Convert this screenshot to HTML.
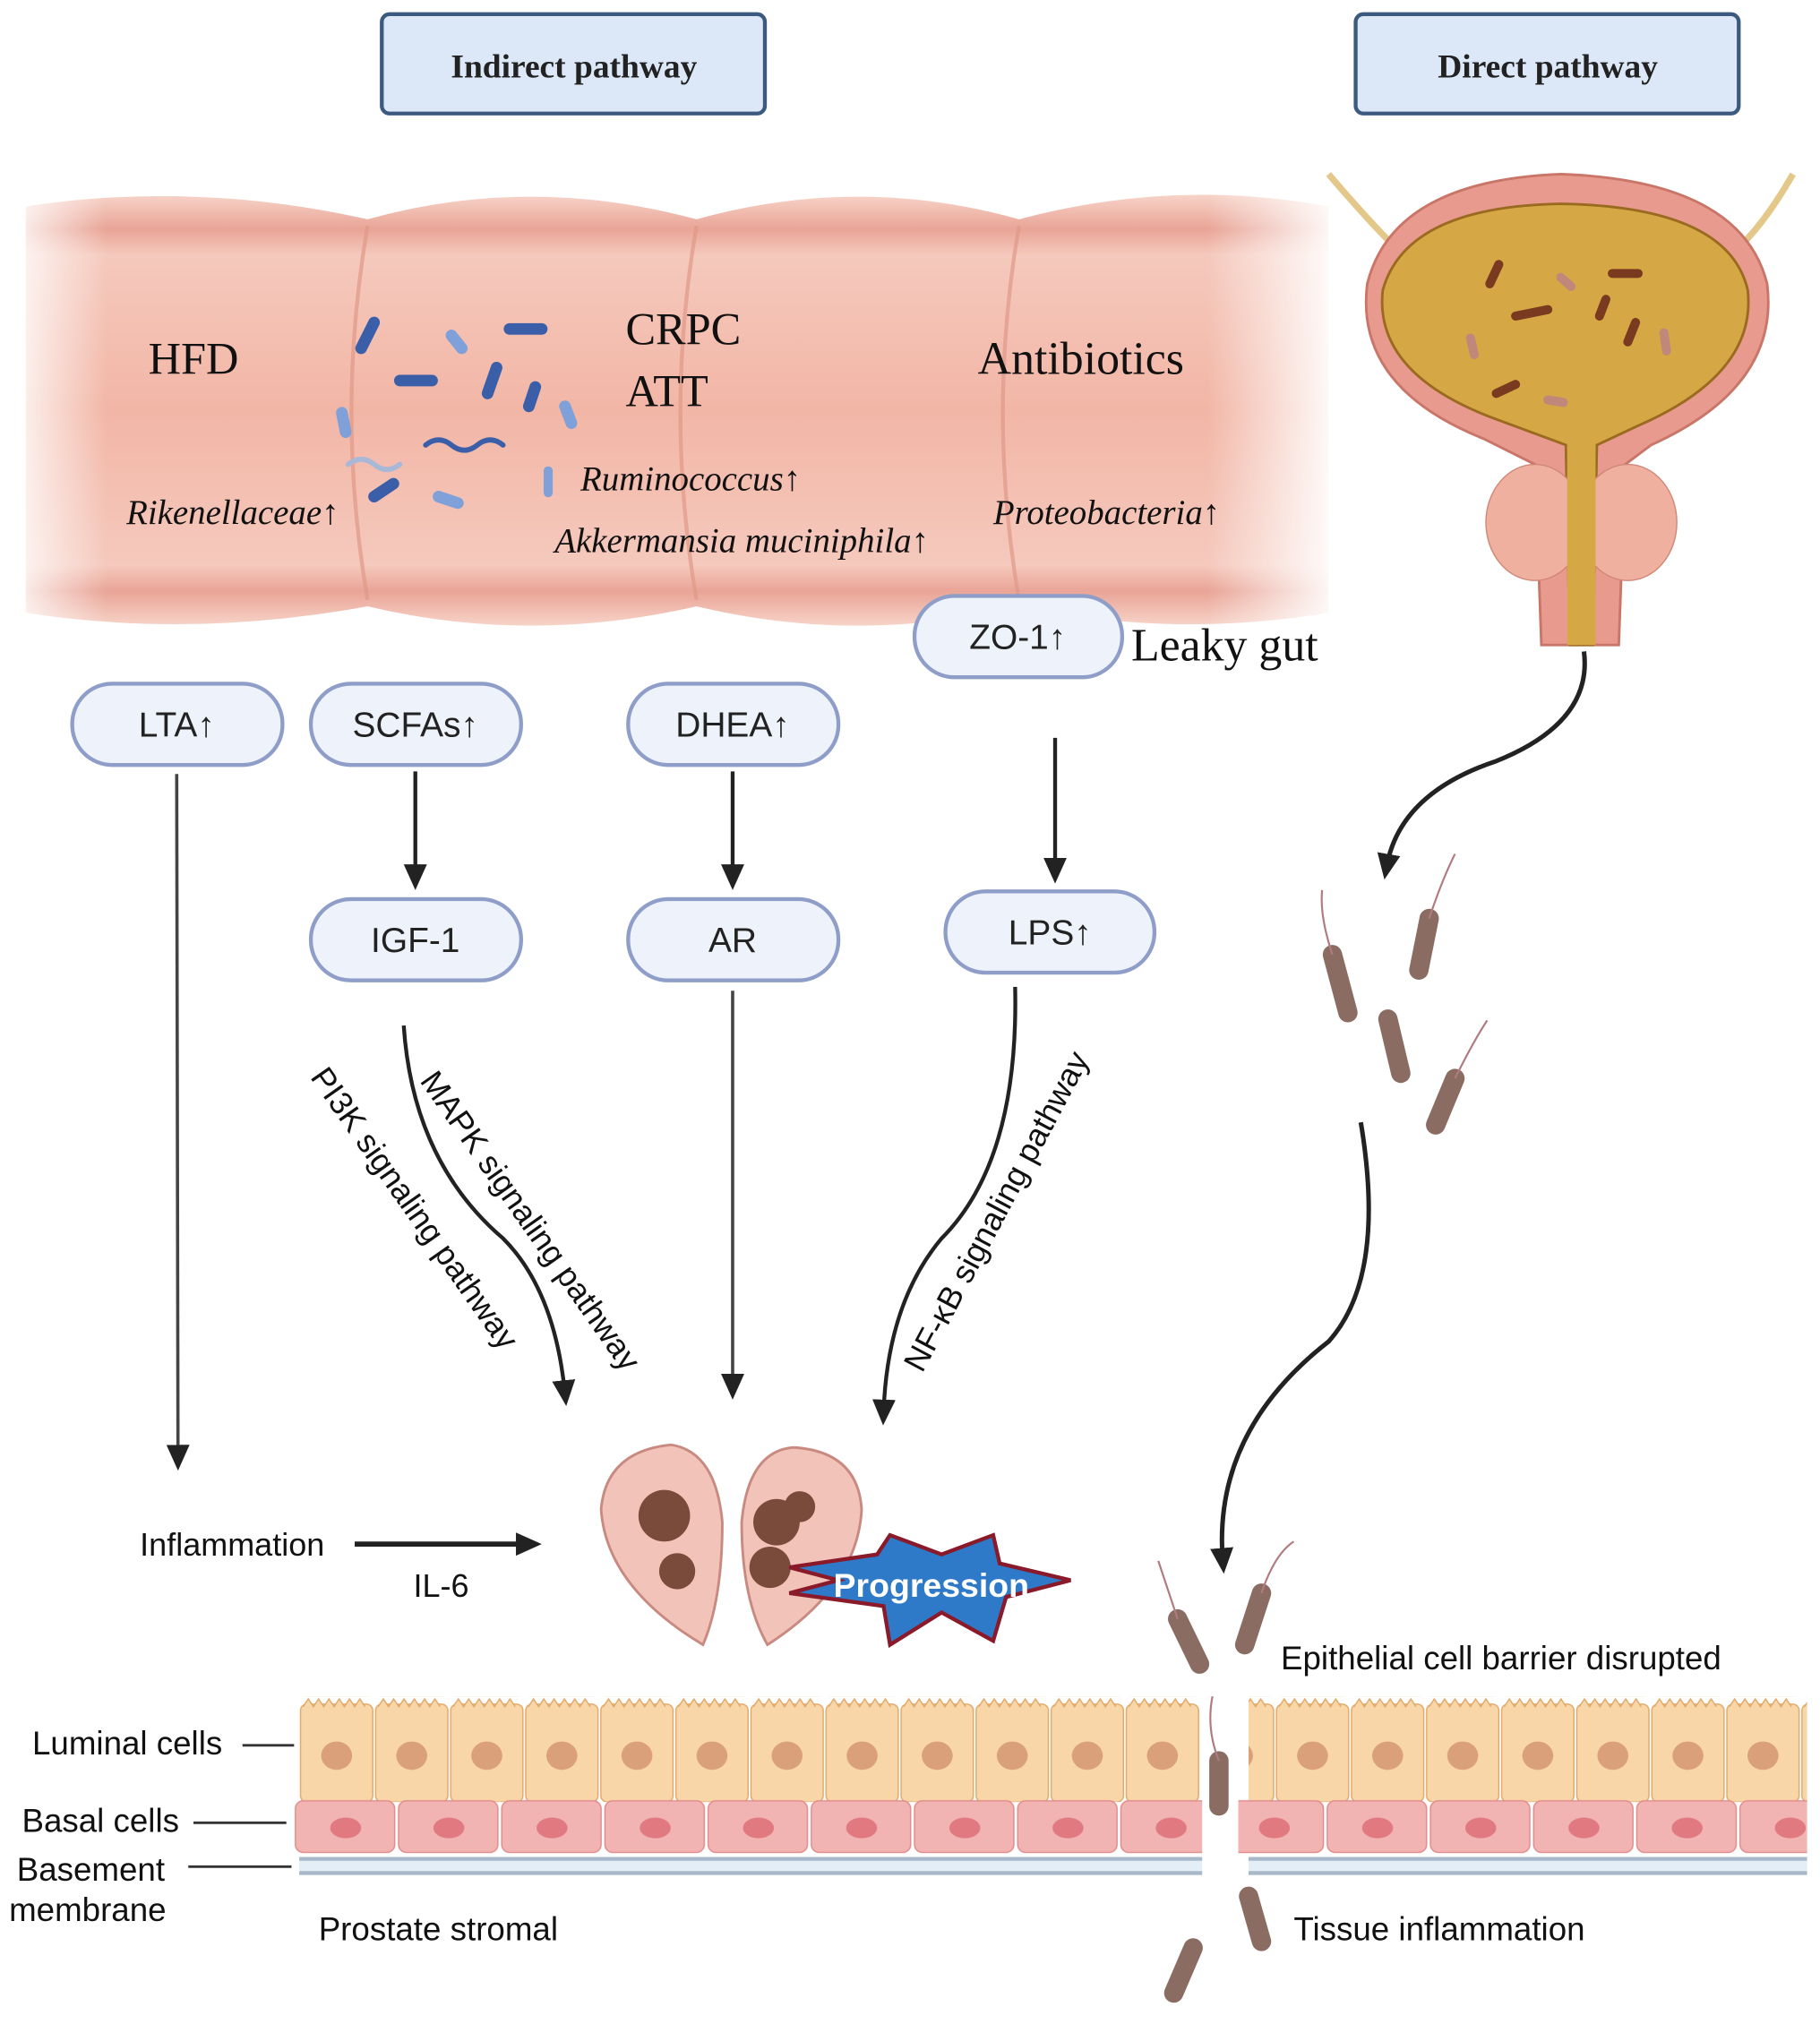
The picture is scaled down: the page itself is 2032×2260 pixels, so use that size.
<!DOCTYPE html>
<html><head><meta charset="utf-8"><style>
html,body{margin:0;padding:0;background:#fff}
svg{display:block}
.s{font-family:"Liberation Sans",sans-serif}
.r{font-family:"Liberation Serif",serif}
</style></head><body>
<svg width="2032" height="2260" viewBox="0 0 1411 1569" preserveAspectRatio="none" xmlns="http://www.w3.org/2000/svg">
<defs>
<linearGradient id="gut" x1="0" y1="0" x2="0" y2="1">
<stop offset="0" stop-color="#f7d3c8"/><stop offset="0.08" stop-color="#e9a496"/><stop offset="0.14" stop-color="#f5c9bd"/><stop offset="0.5" stop-color="#f2b6a6"/><stop offset="0.86" stop-color="#f5c9bd"/><stop offset="0.92" stop-color="#e9a496"/><stop offset="1" stop-color="#f7d3c8"/>
</linearGradient>
<linearGradient id="fade" x1="0" y1="0" x2="1" y2="0">
<stop offset="0" stop-color="#fff" stop-opacity="1"/><stop offset="0.08" stop-color="#fff" stop-opacity="0"/><stop offset="0.9" stop-color="#fff" stop-opacity="0"/><stop offset="1" stop-color="#fff" stop-opacity="1"/>
</linearGradient>
<pattern id="lum" x="232" y="1315" width="58.2" height="82" patternUnits="userSpaceOnUse">
<rect x="1" y="6" width="56" height="76" rx="5" fill="#f8d6a8" stroke="#e0a868" stroke-width="1"/>
<path d="M3 8 l4 -6 4 6 4 -6 4 6 4 -6 4 6 4 -6 4 6 4 -6 4 6 4 -6 4 6" fill="#f8d6a8" stroke="#e0a868" stroke-width="1"/>
<ellipse cx="29" cy="46" rx="12" ry="11" fill="#d9a07a"/>
</pattern>
<pattern id="bas" x="228" y="1395" width="80" height="42" patternUnits="userSpaceOnUse">
<rect x="1" y="1" width="77" height="40" rx="6" fill="#f2b3b3" stroke="#e08a8a"/>
<ellipse cx="40" cy="22" rx="12" ry="8" fill="#e07a80"/>
</pattern>
<marker id="ah2" markerWidth="22" markerHeight="22" refX="10" refY="11" orient="auto" markerUnits="userSpaceOnUse"><path d="M0 2 L20 11 L0 20 Z" fill="#222"/></marker>
</defs>

<rect x="296" y="11" width="297" height="77" rx="6" fill="#dce8f7" stroke="#3c5a80" stroke-width="3"/>
<text x="445" y="60" class="r" font-size="26" font-weight="bold" text-anchor="middle" fill="#222">Indirect pathway</text>
<rect x="1051" y="11" width="297" height="77" rx="6" fill="#dce8f7" stroke="#3c5a80" stroke-width="3"/>
<text x="1200" y="60" class="r" font-size="26" font-weight="bold" text-anchor="middle" fill="#222">Direct pathway</text>

<path d="M20 160 Q150 140 285 170 Q410 135 540 170 Q665 135 790 170 Q910 138 1030 160 L1030 475 Q910 495 790 470 Q665 500 540 470 Q410 500 285 470 Q150 495 20 475 Z" fill="url(#gut)"/>
<g stroke="#e09888" stroke-width="3" fill="none" opacity="0.7">
<path d="M285 175 Q260 320 285 465"/><path d="M540 175 Q515 320 540 465"/><path d="M790 175 Q765 320 790 465"/>
</g>
<rect x="0" y="130" width="1040" height="370" fill="url(#fade)"/>
<g stroke-linecap="round">
<line x1="280" y1="270" x2="290" y2="250" stroke="#3b5ea8" stroke-width="9"/>
<line x1="310" y1="295" x2="335" y2="295" stroke="#3b5ea8" stroke-width="9"/>
<line x1="395" y1="255" x2="420" y2="255" stroke="#3b5ea8" stroke-width="9"/>
<line x1="378" y1="305" x2="385" y2="285" stroke="#3b5ea8" stroke-width="9"/>
<line x1="410" y1="315" x2="415" y2="300" stroke="#3b5ea8" stroke-width="9"/>
<line x1="290" y1="385" x2="305" y2="375" stroke="#3b5ea8" stroke-width="9"/>
<line x1="350" y1="260" x2="358" y2="270" stroke="#7fa0d8" stroke-width="9"/>
<line x1="265" y1="320" x2="268" y2="335" stroke="#7fa0d8" stroke-width="9"/>
<line x1="438" y1="315" x2="443" y2="328" stroke="#7fa0d8" stroke-width="9"/>
<line x1="340" y1="385" x2="355" y2="390" stroke="#7fa0d8" stroke-width="9"/>
<line x1="425" y1="365" x2="425" y2="382" stroke="#7fa0d8" stroke-width="7"/>
<path d="M330 345 q10 -8 20 0 t20 0 t20 0" stroke="#3b5ea8" stroke-width="4" fill="none"/>
<path d="M270 360 q10 -8 20 0 t20 0" stroke="#aab8d8" stroke-width="4" fill="none"/>
</g>
<text x="150" y="290" class="r" font-size="35" text-anchor="middle" fill="#111">HFD</text>
<text x="485" y="267" class="r" font-size="35" fill="#111">CRPC</text>
<text x="485" y="315" class="r" font-size="35" fill="#111">ATT</text>
<text x="838" y="290" class="r" font-size="36" text-anchor="middle" fill="#111">Antibiotics</text>
<text x="98" y="406" class="r" font-size="27" font-style="italic" fill="#111">Rikenellaceae↑</text>
<text x="450" y="380" class="r" font-size="27" font-style="italic" fill="#111">Ruminococcus↑</text>
<text x="430" y="428" class="r" font-size="27" font-style="italic" fill="#111">Akkermansia muciniphila↑</text>
<text x="770" y="406" class="r" font-size="27" font-style="italic" fill="#111">Proteobacteria↑</text>

<path d="M1030 135 Q1060 170 1080 190 M1390 135 Q1370 170 1350 190" stroke="#e3c88a" stroke-width="5" fill="none"/>
<path d="M1060 220 Q1080 140 1210 135 Q1350 140 1370 220 Q1380 300 1280 345 L1260 360 L1255 500 L1195 500 L1190 360 L1150 340 Q1050 300 1060 220 Z" fill="#e89a8e" stroke="#c97568" stroke-width="2"/>
<path d="M1072 225 Q1090 160 1210 158 Q1340 160 1355 225 Q1362 290 1270 330 L1238 345 L1235 500 L1217 500 L1214 345 L1160 325 Q1065 290 1072 225 Z" fill="#d6a845" stroke="#9a6a20" stroke-width="2"/>
<ellipse cx="1190" cy="405" rx="38" ry="45" fill="#f0b0a0" stroke="#d08878"/>
<ellipse cx="1262" cy="405" rx="38" ry="45" fill="#f0b0a0" stroke="#d08878"/>
<rect x="1215" y="345" width="22" height="155" fill="#d6a845"/>
<g stroke="#7a3a20" stroke-width="7" stroke-linecap="round">
<line x1="1155" y1="220" x2="1162" y2="205"/><line x1="1175" y1="245" x2="1200" y2="240"/><line x1="1250" y1="212" x2="1270" y2="212"/>
<line x1="1240" y1="245" x2="1245" y2="232"/><line x1="1262" y1="265" x2="1268" y2="250"/><line x1="1160" y1="305" x2="1175" y2="298"/>
</g>
<g stroke="#c0887a" stroke-width="7" stroke-linecap="round"><line x1="1140" y1="262" x2="1143" y2="275"/><line x1="1210" y1="215" x2="1218" y2="222"/><line x1="1290" y1="258" x2="1292" y2="272"/><line x1="1200" y1="310" x2="1212" y2="312"/></g>

<g stroke="#8e9ec8" stroke-width="3" fill="#eef3fb">
<rect x="56" y="530" width="163" height="63" rx="31"/>
<rect x="241" y="530" width="163" height="63" rx="31"/>
<rect x="487" y="530" width="163" height="63" rx="31"/>
<rect x="709" y="462" width="161" height="63" rx="31"/>
<rect x="241" y="697" width="163" height="63" rx="31"/>
<rect x="487" y="697" width="163" height="63" rx="31"/>
<rect x="733" y="691" width="162" height="63" rx="31"/>
</g>
<g class="s" font-size="27" text-anchor="middle" fill="#222">
<text x="137" y="571">LTA↑</text><text x="322" y="571">SCFAs↑</text><text x="568" y="571">DHEA↑</text>
<text x="789" y="503">ZO-1↑</text><text x="322" y="738">IGF-1</text><text x="568" y="738">AR</text><text x="814" y="732">LPS↑</text>
</g>
<text x="877" y="512" class="r" font-size="36" fill="#111">Leaky gut</text>

<g stroke="#222" stroke-width="3" fill="none">
<line x1="322" y1="598" x2="322" y2="680" marker-end="url(#ah2)"/>
<line x1="568" y1="598" x2="568" y2="680" marker-end="url(#ah2)"/>
<line x1="818" y1="572" x2="818" y2="675" marker-end="url(#ah2)"/>
<line x1="137" y1="600" x2="138" y2="1130" stroke="#444" stroke-width="2.5" marker-end="url(#ah2)"/>
<line x1="568" y1="768" x2="568" y2="1075" stroke="#444" stroke-width="2.5" marker-end="url(#ah2)"/>
<path d="M313 795 Q320 900 390 960 Q430 1000 438 1080" marker-end="url(#ah2)"/>
<path d="M787 765 Q790 900 730 960 Q688 1010 685 1095" marker-end="url(#ah2)"/>
<line x1="275" y1="1197" x2="410" y2="1197" stroke-width="4" marker-end="url(#ah2)"/>
<path d="M1228 505 Q1235 560 1160 590 Q1085 615 1075 672" stroke-width="3.5" marker-end="url(#ah2)"/>
<path d="M1055 870 Q1075 990 1030 1040 Q940 1110 948 1210" stroke-width="3.5" marker-end="url(#ah2)"/>
</g>
<text class="s" font-size="25" fill="#111" transform="translate(240 835) rotate(55)">PI3K signaling pathway</text>
<text class="s" font-size="25" fill="#111" transform="translate(325 838) rotate(55)">MAPK signaling pathway</text>
<text class="s" font-size="25" fill="#111" transform="translate(715 1065) rotate(-62)">NF-κB signaling pathway</text>

<g stroke="#8a6c62" stroke-width="15" stroke-linecap="round">
<line x1="1033" y1="740" x2="1045" y2="785"/><line x1="1108" y1="712" x2="1100" y2="752"/>
<line x1="1076" y1="790" x2="1086" y2="832"/><line x1="1128" y1="836" x2="1113" y2="872"/>
<line x1="913" y1="1255" x2="930" y2="1290"/><line x1="978" y1="1235" x2="965" y2="1275"/>
<line x1="945" y1="1365" x2="945" y2="1400"/><line x1="968" y1="1470" x2="978" y2="1505"/><line x1="925" y1="1510" x2="910" y2="1545"/>
</g>
<g stroke="#b07a80" stroke-width="1.5" fill="none">
<path d="M1033 740 q-10 -30 -8 -50"/><path d="M1108 712 q10 -30 20 -50"/><path d="M1128 836 q15 -30 25 -45"/>
<path d="M913 1255 q-10 -30 -15 -45"/><path d="M978 1235 q10 -30 25 -40"/><path d="M945 1365 q-10 -25 -5 -50"/>
</g>

<path d="M520 1120 Q470 1125 466 1170 Q470 1230 545 1275 Q560 1240 560 1180 Q555 1125 520 1120 Z" fill="#f2c3b8" stroke="#c88a80" stroke-width="2"/>
<path d="M615 1122 Q665 1125 668 1170 Q665 1230 595 1275 Q575 1240 575 1180 Q580 1125 615 1122 Z" fill="#f2c3b8" stroke="#c88a80" stroke-width="2"/>
<g fill="#7a4a3a"><circle cx="515" cy="1175" r="20"/><circle cx="525" cy="1218" r="14"/><circle cx="602" cy="1180" r="18"/><circle cx="597" cy="1215" r="16"/><circle cx="620" cy="1168" r="12"/></g>
<path d="M612 1215 L680 1205 L690 1190 L730 1205 L770 1190 L775 1212 L830 1225 L780 1238 L770 1272 L730 1250 L690 1275 L685 1245 L612 1235 L650 1225 Z" fill="#2e7ac8" stroke="#8a1a2a" stroke-width="3"/>
<text x="722" y="1238" class="s" font-size="26" font-weight="bold" fill="#fff" text-anchor="middle">Progression</text>
<text x="180" y="1206" class="s" font-size="25" fill="#111" text-anchor="middle">Inflammation</text>
<text x="342" y="1238" class="s" font-size="25" fill="#111" text-anchor="middle">IL-6</text>

<rect x="232" y="1315" width="698" height="82" fill="url(#lum)"/>
<rect x="968" y="1315" width="433" height="82" fill="url(#lum)"/>
<rect x="228" y="1395" width="704" height="42" fill="url(#bas)"/>
<rect x="960" y="1395" width="441" height="42" fill="url(#bas)"/>
<rect x="232" y="1440" width="700" height="13" fill="#e4eef6"/>
<line x1="232" y1="1441" x2="932" y2="1441" stroke="#a8b8c8" stroke-width="3"/><line x1="232" y1="1452" x2="932" y2="1452" stroke="#a8b8c8" stroke-width="3"/>
<rect x="968" y="1440" width="433" height="13" fill="#e4eef6"/>
<line x1="968" y1="1441" x2="1401" y2="1441" stroke="#a8b8c8" stroke-width="3"/><line x1="968" y1="1452" x2="1401" y2="1452" stroke="#a8b8c8" stroke-width="3"/>
<g class="s" font-size="25.5" fill="#111">
<text x="25" y="1360">Luminal cells</text><text x="17" y="1420">Basal cells</text><text x="13" y="1458">Basement</text><text x="7" y="1489">membrane</text>
<text x="247" y="1504">Prostate stromal</text><text x="1003" y="1504">Tissue inflammation</text><text x="993" y="1294">Epithelial cell barrier disrupted</text>
</g>
<g stroke="#333" stroke-width="2"><line x1="188" y1="1353" x2="228" y2="1353"/><line x1="150" y1="1413" x2="222" y2="1413"/><line x1="146" y1="1447" x2="226" y2="1447"/></g>
</svg>
</body></html>
